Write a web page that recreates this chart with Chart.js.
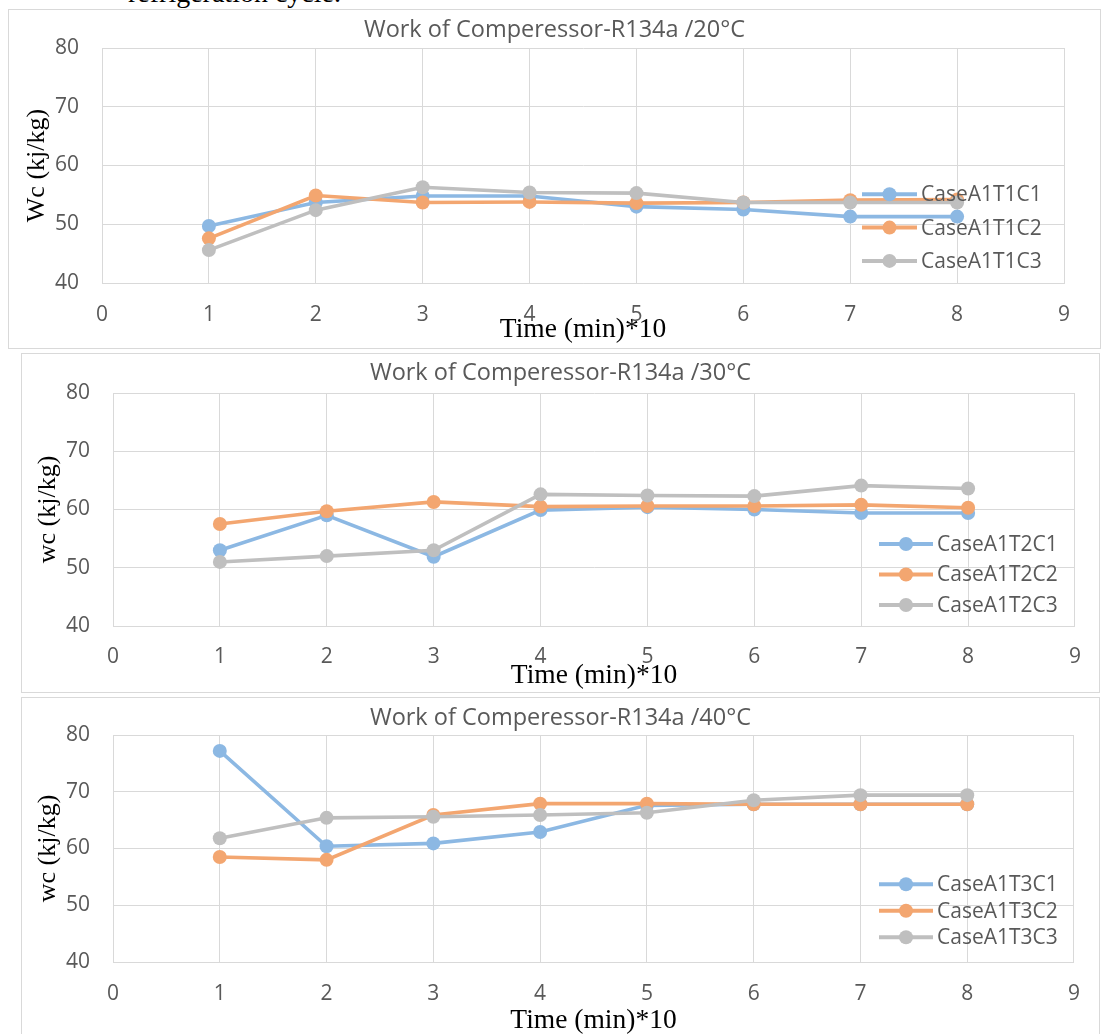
<!DOCTYPE html>
<html>
<head>
<meta charset="utf-8">
<title>Work of Comperessor-R134a</title>
<script src="https://cdn.jsdelivr.net/npm/chart.js@4.4.1/dist/chart.umd.min.js"></script>
<style>
  body { margin: 0; background: #fff; width: 1106px; height: 1034px; overflow: hidden; position: relative; }
  .frame { position: absolute; border: 1px solid #d9d9d9; box-sizing: border-box; }
  canvas { position: absolute; display: block; }
  #lead { position: absolute; left: 128px; top: -21px; font: 28px "Liberation Serif", serif; line-height: 28px; color: #000; white-space: nowrap; }
</style>
</head>
<body>
<div id="lead">refrigeration cycle.</div>

<div class="frame" style="left:8px;top:9px;width:1093px;height:340px"></div>
<canvas id="wc20" width="1091" height="338" style="left:9px;top:10px"></canvas>

<div class="frame" style="left:21px;top:353px;width:1079px;height:340px"></div>
<canvas id="wc30" width="1077" height="338" style="left:22px;top:354px"></canvas>

<div class="frame" style="left:21px;top:697px;width:1079px;height:345px"></div>
<canvas id="wc40" width="1077" height="336" style="left:22px;top:698px"></canvas>

<script>
// time axis (min*10) and value axis ticks
const timeSteps = [1, 2, 3, 4, 5, 6, 7, 8];
const xTickValues = [0, 1, 2, 3, 4, 5, 6, 7, 8, 9];
const yTickValues = [40, 50, 60, 70, 80];

// compressor work, kj/kg
const wcT1C1 = [49.7, 53.7, 54.8, 54.8, 53.0, 52.5, 51.3, 51.3];
const wcT1C2 = [47.6, 54.9, 53.7, 53.8, 53.6, 53.7, 54.1, 54.2];
const wcT1C3 = [45.6, 52.4, 56.3, 55.4, 55.3, 53.7, 53.7, 53.7];

const wcT2C1 = [53.0, 59.0, 51.9, 59.9, 60.4, 60.0, 59.4, 59.4];
const wcT2C2 = [57.5, 59.7, 61.3, 60.5, 60.6, 60.6, 60.8, 60.3];
const wcT2C3 = [51.0, 52.0, 53.0, 62.6, 62.4, 62.3, 64.1, 63.6];

const wcT3C1 = [77.2, 60.4, 60.9, 62.9, 67.6, 67.8, 67.8, 67.8];
const wcT3C2 = [58.5, 58.0, 65.9, 67.9, 67.9, 67.8, 67.8, 67.8];
const wcT3C3 = [61.8, 65.4, 65.6, 65.9, 66.3, 68.5, 69.4, 69.4];

const namesT1 = ['CaseA1T1C1', 'CaseA1T1C2', 'CaseA1T1C3'];
const namesT2 = ['CaseA1T2C1', 'CaseA1T2C2', 'CaseA1T2C3'];
const namesT3 = ['CaseA1T3C1', 'CaseA1T3C2', 'CaseA1T3C3'];

const seriesColors = ['#8cb8e3', '#f3a670', '#bfbfbf'];
const sansFont = '"Open Sans", "Noto Sans", sans-serif';
const serifFont = '"Liberation Serif", "Times New Roman", serif';
const gridColor = '#d9d9d9';
const textColor = '#595959';

// legend drawn inside the plot area, on top of the lines
const insideLegend = {
  id: 'insideLegend',
  afterDatasetsDraw(chart, args, opts) {
    const ctx = chart.ctx;
    ctx.save();
    chart.data.datasets.forEach((ds, i) => {
      const y = opts.y + i * opts.gap;
      ctx.strokeStyle = ds.borderColor;
      ctx.lineWidth = 4;
      ctx.beginPath();
      ctx.moveTo(opts.x, y);
      ctx.lineTo(opts.x + opts.len, y);
      ctx.stroke();
      ctx.fillStyle = ds.borderColor;
      ctx.beginPath();
      ctx.arc(opts.x + opts.len / 2, y, 7, 0, Math.PI * 2);
      ctx.fill();
      ctx.fillStyle = textColor;
      ctx.font = '21px ' + sansFont;
      ctx.textBaseline = 'middle';
      ctx.fillText(ds.label, opts.x + opts.len + 4, y + 1);
    });
    ctx.restore();
  }
};

function drawPanel(id, title, yTitle, names, values, g) {
  new Chart(document.getElementById(id), {
    type: 'line',
    data: {
      datasets: names.map((name, i) => ({
        label: name,
        data: timeSteps.map((t, k) => ({ x: t, y: values[i][k] })),
        borderColor: seriesColors[i],
        backgroundColor: seriesColors[i],
        borderWidth: 3.6,
        pointRadius: 7,
        pointBorderWidth: 0,
        tension: 0,
        order: names.length - i
      }))
    },
    options: {
      responsive: false,
      animation: false,
      layout: { padding: 0 },
      plugins: {
        legend: { display: false },
        tooltip: { enabled: false },
        title: {
          display: true,
          text: title,
          color: textColor,
          font: { family: sansFont, size: 23.5, weight: 'normal' },
          padding: g.titlePad
        },
        insideLegend: g.legend
      },
      scales: {
        x: {
          type: 'linear',
          min: xTickValues[0],
          max: xTickValues[xTickValues.length - 1],
          afterBuildTicks: s => { s.ticks = xTickValues.map(v => ({ value: v })); },
          afterFit: s => { s.height = g.xAxisH; },
          grid: { color: gridColor, lineWidth: 1, drawTicks: false },
          border: { color: gridColor },
          ticks: { padding: g.xTickPad, color: textColor, font: { family: sansFont, size: 21 } },
          title: {
            display: true,
            text: 'Time (min)*10',
            color: '#000',
            font: { family: serifFont, size: 27.5 },
            padding: g.xTitlePad
          }
        },
        y: {
          min: yTickValues[0],
          max: yTickValues[yTickValues.length - 1],
          afterBuildTicks: s => { s.ticks = yTickValues.map(v => ({ value: v })); },
          afterFit: s => { s.width = g.yAxisW; },
          grid: { color: gridColor, lineWidth: 1, drawTicks: false },
          border: { color: gridColor },
          ticks: { padding: 23, color: textColor, font: { family: sansFont, size: 21 } },
          title: {
            display: true,
            text: yTitle,
            color: '#000',
            font: { family: serifFont, size: 26 },
            padding: g.yTitlePad
          }
        },
        // empty strip on the right so the title stays centred on the whole frame
        gap: {
          position: 'right',
          min: yTickValues[0],
          max: yTickValues[yTickValues.length - 1],
          afterFit: s => { s.width = g.padRight; },
          grid: { display: false },
          border: { display: false },
          ticks: { display: false }
        }
      }
    },
    plugins: [insideLegend]
  });
}

drawPanel('wc20', 'Work of Comperessor-R134a /20°C', 'Wc (kj/kg)', namesT1,
  [wcT1C1, wcT1C2, wcT1C3],
  { yAxisW: 93, padRight: 36, titlePad: { top: 6.4, bottom: 3.4 }, xAxisH: 65, xTickPad: 19,
    xTitlePad: 1.6, yTitlePad: 12.4, legend: { x: 853, y: 184.3, gap: 33.3, len: 55 } });

drawPanel('wc30', 'Work of Comperessor-R134a /30°C', 'wc (kj/kg)', namesT2,
  [wcT2C1, wcT2C2, wcT2C3],
  { yAxisW: 91, padRight: 19, titlePad: { top: 5.4, bottom: 5.4 }, xAxisH: 66, xTickPad: 18,
    xTitlePad: -0.4, yTitlePad: 10.4, legend: { x: 857, y: 190, gap: 30.5, len: 54 } });

drawPanel('wc40', 'Work of Comperessor-R134a /40°C', 'wc (kj/kg)', namesT3,
  [wcT3C1, wcT3C2, wcT3C3],
  { yAxisW: 91, padRight: 25, titlePad: { top: 6.4, bottom: 2.4 }, xAxisH: 72, xTickPad: 19,
    xTitlePad: -3.4, yTitlePad: 10.4, legend: { x: 857, y: 186.3, gap: 26.5, len: 54 } });
</script>
</body>
</html>
